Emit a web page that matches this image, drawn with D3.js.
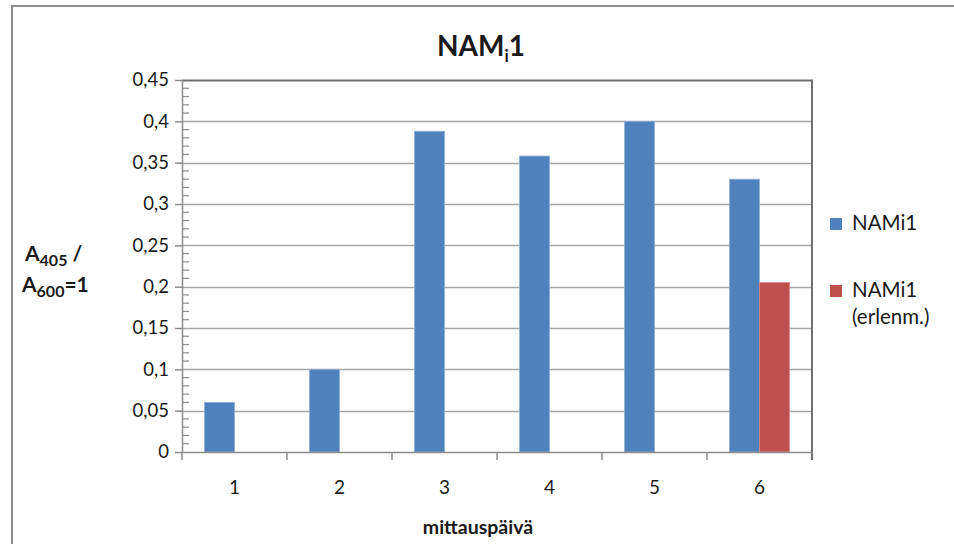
<!DOCTYPE html>
<html>
<head>
<meta charset="utf-8">
<script src="https://cdn.jsdelivr.net/npm/d3@7"></script>
<style>
  html, body { margin: 0; padding: 0; background: #fff; }
  svg { display: block; }
  text { font-family: Lato, "Open Sans", sans-serif; fill: #1a1a1a; }
</style>
</head>
<body>
<svg id="chart" width="954" height="544"></svg>
<script>
// Measurement days and absorbance ratios
const days = ["1", "2", "3", "4", "5", "6"];
const nami1 = [0.06, 0.10, 0.388, 0.358, 0.40, 0.33];
const nami1Erlenm = [null, null, null, null, null, 0.205];
const seriesNames = ["NAMi1", "NAMi1 (erlenm.)"];
const seriesColors = ["#4F81BD", "#C0504D"];
const seriesEdges = ["#8eaedb", "#d98a88"];
const yTicks = [0, 0.05, 0.1, 0.15, 0.2, 0.25, 0.3, 0.35, 0.4, 0.45];
const yTickLabels = ["0", "0,05", "0,1", "0,15", "0,2", "0,25", "0,3", "0,35", "0,4", "0,45"];

const svg = d3.select("#chart");
const plot = { left: 182, right: 812, top: 80, bottom: 452 };

// Outer chart frame
svg.append("path")
  .attr("d", "M12,544 V6 H954")
  .attr("fill", "none")
  .attr("stroke", "#8c8c8c")
  .attr("stroke-width", 2);

const x = d3.scaleBand().domain(days).range([plot.left, plot.right]).padding(0);
const xs = d3.scaleBand().domain(seriesNames).range([0, x.bandwidth()]).paddingInner(0).paddingOuter(0.75);
const y = d3.scaleLinear().domain([0, 0.45]).range([plot.bottom, plot.top]);

// Horizontal gridlines
svg.append("g")
  .selectAll("line")
  .data(yTicks.slice(1, -1))
  .join("line")
  .attr("x1", plot.left).attr("x2", plot.right)
  .attr("y1", d => Math.round(y(d)) + 0.5).attr("y2", d => Math.round(y(d)) + 0.5)
  .attr("stroke", "#a6a6a6").attr("stroke-width", 1.5);

// Plot area top and right edges
svg.append("path")
  .attr("d", `M${plot.left},${plot.top + 0.5} H${plot.right} V${plot.bottom + 8}`)
  .attr("fill", "none").attr("stroke", "#707070").attr("stroke-width", 2);

// Bars
const rows = days.map((d, i) => ({ day: d, values: [nami1[i], nami1Erlenm[i]] }));
const groups = svg.append("g").selectAll("g")
  .data(rows).join("g")
  .attr("transform", d => `translate(${x(d.day)},0)`);
groups.selectAll("rect")
  .data(d => d.values.map((v, k) => ({ v, k })).filter(e => e.v != null))
  .join("rect")
  .attr("x", e => xs(seriesNames[e.k]))
  .attr("width", xs.bandwidth())
  .attr("y", e => y(e.v))
  .attr("height", e => y(0) - y(e.v))
  .attr("fill", e => seriesColors[e.k])
  .attr("stroke", e => seriesEdges[e.k])
  .attr("stroke-width", 0.8);

// Y axis with major and minor ticks
const yAxis = d3.axisLeft(y)
  .tickValues(yTicks)
  .tickFormat((d, i) => yTickLabels[i])
  .tickSize(7).tickSizeOuter(0).tickPadding(6);
const gy = svg.append("g").attr("transform", `translate(${plot.left},0)`).call(yAxis);
gy.select(".domain").attr("stroke", "#8c8c8c").attr("stroke-width", 1.5);
gy.selectAll(".tick line").attr("stroke", "#8c8c8c").attr("stroke-width", 1.5);
gy.selectAll(".tick text").style("font-size", "18.5px").style("font-family", "Lato, 'Open Sans', sans-serif").attr("fill", "#1a1a1a");
const minor = d3.range(0, 46).map(d => d / 100).filter(d => Math.round(d * 100) % 5 !== 0);
svg.append("g").selectAll("line").data(minor).join("line")
  .attr("x1", plot.left).attr("x2", plot.left + 7)
  .attr("y1", d => y(d)).attr("y2", d => y(d))
  .attr("stroke", "#8c8c8c").attr("stroke-width", 1.2);

// X axis with ticks between categories
const xAxis = d3.axisBottom(x).tickSize(0).tickSizeOuter(0).tickPadding(29);
const gx = svg.append("g").attr("transform", `translate(0,${plot.bottom})`).call(xAxis);
gx.select(".domain").attr("stroke", "#8c8c8c").attr("stroke-width", 1.5);
gx.selectAll(".tick text").style("font-size", "19px").style("font-family", "Lato, 'Open Sans', sans-serif").attr("fill", "#1a1a1a");
svg.append("g").selectAll("line").data(days).join("line")
  .attr("x1", d => x(d)).attr("x2", d => x(d))
  .attr("y1", plot.bottom).attr("y2", plot.bottom + 8)
  .attr("stroke", "#8c8c8c").attr("stroke-width", 1.5);

// Title
const title = svg.append("text").attr("x", 481).attr("y", 56)
  .attr("text-anchor", "middle").style("font-size", "28px").style("font-weight", "bold");
title.append("tspan").text("NAM");
title.append("tspan").text("i").style("font-size", "17px").attr("dy", 6);
title.append("tspan").text("1").attr("dy", -6);

// Y axis title
const yt1 = svg.append("text").attr("x", 25).attr("y", 261).style("font-size", "21px").style("font-weight", "bold");
yt1.append("tspan").text("A");
yt1.append("tspan").text("405").style("font-size", "16px").attr("dy", 5);
yt1.append("tspan").text(" /").attr("dy", -5);
const yt2 = svg.append("text").attr("x", 22).attr("y", 292).style("font-size", "21px").style("font-weight", "bold");
yt2.append("tspan").text("A");
yt2.append("tspan").text("600").style("font-size", "16px").attr("dy", 5);
yt2.append("tspan").text("=1").attr("dy", -5);

// X axis title
svg.append("text").attr("x", 478).attr("y", 534)
  .attr("text-anchor", "middle").style("font-size", "19.5px").style("font-weight", "bold")
  .text("mittauspäivä");

// Legend
const legendItems = [
  { lines: ["NAMi1"], y: 224 },
  { lines: ["NAMi1", "(erlenm.)"], y: 291 }
];
const lg = svg.append("g").selectAll("g").data(legendItems).join("g");
lg.append("rect")
  .attr("x", 830).attr("y", d => d.y - 6).attr("width", 12).attr("height", 12)
  .attr("fill", (d, i) => seriesColors[i]);
lg.each(function (d) {
  const t = d3.select(this).append("text").attr("x", 852).attr("y", d.y + 6).style("font-size", "20.5px");
  d.lines.forEach((l, j) => t.append("tspan").attr("x", 852).attr("dy", j === 0 ? 0 : 27).text(l));
});
</script>
</body>
</html>
